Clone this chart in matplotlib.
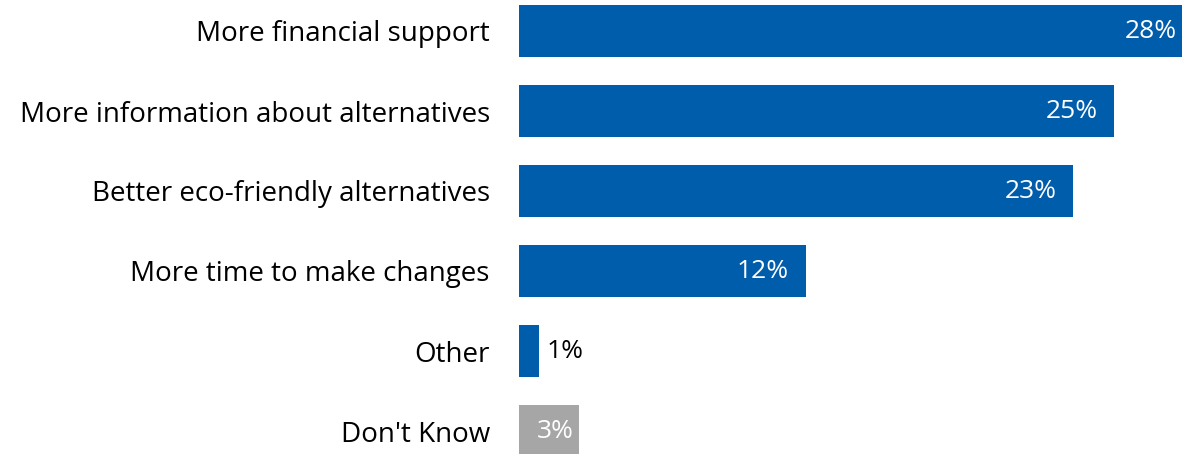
import matplotlib
matplotlib.use("Agg")
import matplotlib.pyplot as plt

# data
categories = ["More financial support", "More information about alternatives",
              "Better eco-friendly alternatives", "More time to make changes",
              "Other", "Don't Know"]
values = [28.0, 24.7, 23.0, 11.9, 0.85, 2.5]
value_labels = ["28%", "25%", "23%", "12%", "1%", "3%"]

BLUE = "#005DAC"
GREY = "#A6A6A6"
colors = [BLUE] * 5 + [GREY]

plt.rcParams['font.family'] = ['Open Sans', 'DejaVu Sans']
FS_CAT = 20
FS_VAL = 19

W, H = 1182, 454
fig = plt.figure(figsize=(W / 100, H / 100), dpi=100)
ax = fig.add_axes([519 / W, 0, 1 - 519 / W, 1])

y = list(range(len(categories)))
ax.barh(y, values, height=0.65, color=colors)

# 80 px per slot, first bar centre 31 px from top
ax.set_ylim(5 + 23 / 80, -31 / 80)
ax.set_xlim(0, 663 / 24.1)

for yi, v, lab in zip(y, values, value_labels):
    if v < 2:
        ax.annotate(lab, (v, yi), xytext=(5, 0), textcoords="offset points",
                    ha="left", va="center", fontsize=FS_VAL, color="black")
    elif v < 5:
        ax.annotate(lab, (v, yi), xytext=(-4, 0), textcoords="offset points",
                    ha="right", va="center", fontsize=FS_VAL, color="white")
    else:
        ax.annotate(lab, (v, yi), xytext=(-12, 0), textcoords="offset points",
                    ha="right", va="center", fontsize=FS_VAL, color="white",
                    annotation_clip=False)

ax.set_yticks(y)
ax.set_yticklabels(categories, fontsize=FS_CAT)
ax.tick_params(axis="y", length=0, pad=21)
ax.set_xticks([])
for s in ax.spines.values():
    s.set_visible(False)

fig.savefig("out.png", dpi=100)
